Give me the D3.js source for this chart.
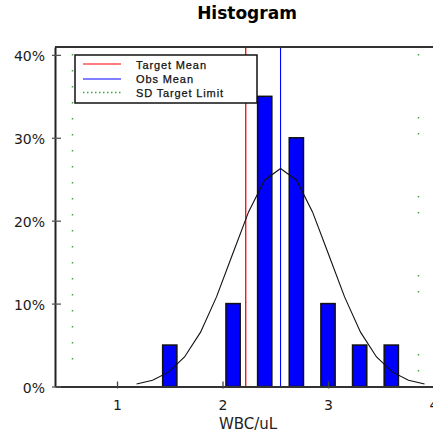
<!DOCTYPE html>
<html>
<head>
<meta charset="utf-8">
<script src="https://cdn.jsdelivr.net/npm/d3@7"></script>
<style>
  body { margin: 0; background: #fff; }
  svg { display: block; }
  .tick text { font-family: "DejaVu Sans", Verdana, sans-serif; font-size: 14px; fill: #1a1a1a; }
</style>
</head>
<body>
<div id="chart"></div>
<script>
// histogram bins (bin centre, WBC/uL) and share of results
var binCenters = [1.5, 2.1, 2.4, 2.7, 3.0, 3.3, 3.6];
var binShare   = [0.05, 0.10, 0.35, 0.30, 0.10, 0.05, 0.05];

// fitted normal curve
var curveX = [1.185, 1.337, 1.488, 1.640, 1.792, 1.943, 2.095, 2.247, 2.398, 2.550,
              2.702, 2.853, 3.005, 3.157, 3.308, 3.460, 3.612, 3.763, 3.915];
var curveY = [0.003, 0.0075, 0.0173, 0.0356, 0.0656, 0.1081, 0.1595, 0.2106, 0.2488, 0.263,
              0.2488, 0.2106, 0.1595, 0.1081, 0.0656, 0.0356, 0.0173, 0.0075, 0.003];

var targetMean = 2.22;
var obsMean = 2.55;
var sdLimits = [0.57, 3.85];

var xTicks = [1, 2, 3, 4];
var yTicks = [0, 0.1, 0.2, 0.3, 0.4];
var legendLabels = ["Target Mean", "Obs Mean", "SD Target Limit"];

var W = 433, H = 435;
var margin = { top: 47, left: 55 };
var plotBottom = 386.5;

var x = d3.scaleLinear().domain([0.412, 4.0]).range([margin.left, 433.5]);
var y = d3.scaleLinear().domain([0, 0.4095]).range([plotBottom, margin.top]);
var barW = x(1.135) - x(1);

var svg = d3.select("#chart").append("svg")
    .attr("width", W)
    .attr("height", H);

// title
svg.append("text")
    .attr("x", 247).attr("y", 19)
    .attr("text-anchor", "middle")
    .style("font-family", "'DejaVu Sans', Verdana, sans-serif")
    .style("font-weight", "bold")
    .style("font-size", "17px")
    .text("Histogram");

// SD target limits (green dotted)
svg.selectAll(".sd")
    .data(sdLimits)
    .enter().append("line")
    .attr("class", "sd")
    .attr("x1", function (d) { return Math.round(x(d)) + 0.5; })
    .attr("x2", function (d) { return Math.round(x(d)) + 0.5; })
    .attr("y1", 54)
    .attr("y2", 374)
    .attr("stroke", "#3aa83a")
    .attr("stroke-width", 1.5)
    .attr("stroke-dasharray", function (d, i) { return i == 0 ? "1.5,14.5" : "1.5,61.5,1.5,14.5"; });

// bars
svg.selectAll(".bar")
    .data(binCenters)
    .enter().append("rect")
    .attr("class", "bar")
    .attr("x", function (d) { return x(d) - barW / 2; })
    .attr("y", function (d, i) { return y(binShare[i]); })
    .attr("width", barW)
    .attr("height", function (d, i) { return plotBottom - y(binShare[i]); })
    .attr("fill", "#0000ff")
    .attr("stroke", "#111")
    .attr("stroke-width", 1.5);

// target mean and observed mean
svg.append("line")
    .attr("x1", x(targetMean)).attr("x2", x(targetMean))
    .attr("y1", margin.top).attr("y2", plotBottom)
    .attr("stroke", "#ff0000").attr("stroke-width", 1.3);

svg.append("line")
    .attr("x1", x(obsMean)).attr("x2", x(obsMean))
    .attr("y1", margin.top).attr("y2", plotBottom)
    .attr("stroke", "#0000ff").attr("stroke-width", 1.1);

// normal curve
var line = d3.line()
    .x(function (d) { return x(d); })
    .y(function (d, i) { return y(curveY[i]); });

svg.append("path")
    .attr("d", line(curveX))
    .attr("fill", "none")
    .attr("stroke", "#111")
    .attr("stroke-width", 1.1);

// top frame line
svg.append("line")
    .attr("x1", margin.left).attr("x2", W)
    .attr("y1", margin.top).attr("y2", margin.top)
    .attr("stroke", "#333").attr("stroke-width", 2);

// X axis
var xaxis = svg.append("g")
    .attr("transform", "translate(0," + plotBottom + ")")
    .call(d3.axisBottom(x).tickValues(xTicks).tickFormat(d3.format("d")).tickSizeOuter(0));
xaxis.select(".domain").attr("stroke", "#333").attr("stroke-width", 2);
xaxis.selectAll(".tick line").attr("y1", -5).attr("y2", 2).attr("stroke", "#444").attr("stroke-width", 1.3);
xaxis.selectAll(".tick text").attr("y", 14).attr("dy", "0.71em");

// Y axis
var yaxis = svg.append("g")
    .attr("transform", "translate(" + margin.left + ",0)")
    .call(d3.axisLeft(y).tickValues(yTicks).tickFormat(d3.format(".0%")).tickSizeOuter(0));
yaxis.select(".domain").attr("stroke", "#222").attr("stroke-width", 2);
yaxis.selectAll(".tick line").attr("x1", -3).attr("x2", 6).attr("stroke", "#555").attr("stroke-width", 1.3);
yaxis.selectAll(".tick text").attr("x", -10).attr("dy", "0.4em");

// x label
svg.append("text")
    .attr("x", 248).attr("y", 429)
    .attr("text-anchor", "middle")
    .style("font-family", "'DejaVu Sans', Verdana, sans-serif")
    .style("font-size", "15px")
    .style("fill", "#222")
    .text("WBC/uL");

// legend
var legend = svg.append("g");
legend.append("rect")
    .attr("x", 75).attr("y", 55)
    .attr("width", 182).attr("height", 48)
    .attr("fill", "#fff")
    .attr("stroke", "#111")
    .attr("stroke-width", 1.5);

var legendStroke = ["#ff0000", "#0000ff", "#3aa83a"];
var legendDash = [null, null, "1.5,2.5"];
var legendLineY = [64, 79, 92.5];
var legendTextY = [68.5, 83, 97];
var legendTextW = [70, 57, 87];

legend.selectAll(".lg-line")
    .data(legendLabels)
    .enter().append("line")
    .attr("class", "lg-line")
    .attr("x1", 83).attr("x2", 121)
    .attr("y1", function (d, i) { return legendLineY[i]; })
    .attr("y2", function (d, i) { return legendLineY[i]; })
    .attr("stroke", function (d, i) { return legendStroke[i]; })
    .attr("stroke-width", function (d, i) { return i == 2 ? 1.5 : 1.2; })
    .attr("stroke-dasharray", function (d, i) { return legendDash[i]; });

legend.selectAll(".lg-text")
    .data(legendLabels)
    .enter().append("text")
    .attr("class", "lg-text")
    .attr("x", 136)
    .attr("y", function (d, i) { return legendTextY[i]; })
    .attr("textLength", function (d, i) { return legendTextW[i]; })
    .attr("lengthAdjust", "spacing")
    .style("font-family", "'Liberation Sans', Arial, sans-serif")
    .style("font-size", "11px")
    .style("fill", "#111")
    .style("stroke", "#111")
    .style("stroke-width", 0.25)
    .text(function (d) { return d; });
</script>
</body>
</html>
